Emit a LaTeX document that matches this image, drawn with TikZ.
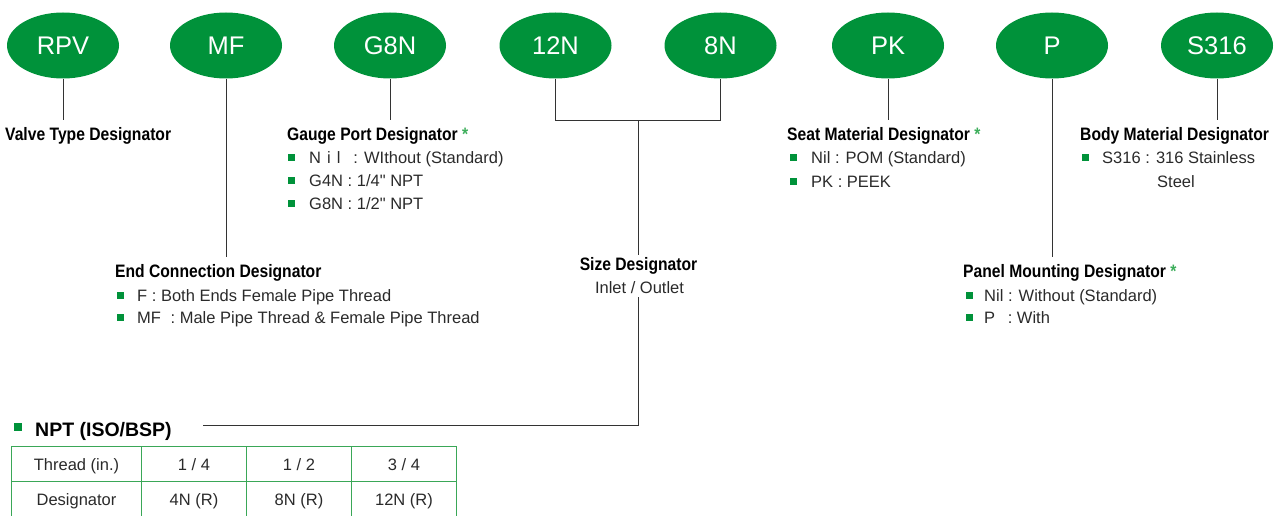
\documentclass[tikz,border=0pt]{standalone}
\usepackage{fontspec}
\setmainfont{Liberation Sans}
\newfontfamily\bodyfont{Liberation Sans}
\newfontfamily\ttlfont[FakeStretch=0.87]{Liberation Sans}
\usetikzlibrary{shapes.geometric}
\definecolor{mgreen}{HTML}{00923A}
\definecolor{lgreen}{HTML}{3DAE5B}
\definecolor{tgreen}{HTML}{3AA757}
\definecolor{txt}{HTML}{2A2A2A}
\tikzset{
 oval/.style={ellipse, fill=mgreen, minimum width=112pt, minimum height=66pt, inner sep=0pt, text=white, font=\bodyfont\fontsize{25.5}{30}\selectfont},
 ttl/.style={anchor=base west, inner sep=0pt, text=black, font=\ttlfont\bfseries\fontsize{18}{22}\selectfont},
 itm/.style={anchor=base west, inner sep=0pt, text=txt, font=\bodyfont\fontsize{16.5}{20}\selectfont},
 bul/.style={fill=mgreen, minimum size=7pt, inner sep=0pt},
 conn/.style={draw=black!80, line width=1pt},
 cell/.style={anchor=base, inner sep=0pt, text=txt, font=\bodyfont\fontsize{16.5}{20}\selectfont},
 tline/.style={draw=tgreen, line width=1pt},
}
\begin{document}
\begin{tikzpicture}[x=1pt,y=-1pt]
\useasboundingbox (0,0) rectangle (1282,516);
% ovals
\node[oval] (rpv) at (63,45.5) {RPV};
\node[oval] (mf) at (226,45.5) {MF};
\node[oval] (g8n) at (390,45.5) {G8N};
\node[oval] (n12) at (555.5,45.5) {12N};
\node[oval] (n8) at (720.5,45.5) {8N};
\node[oval] (pk) at (888,45.5) {PK};
\node[oval] (p) at (1052,45.5) {P};
\node[oval] (s316) at (1217,45.5) {S316};
% valve type
\node[ttl] (vt) at (5,140.5) {Valve Type Designator};
\draw[conn] (rpv.south) -- ([yshift=7pt]rpv.south |- vt.north);
% gauge port
\node[ttl] (gp) at (287,140.5) {Gauge Port Designator \textcolor{lgreen}{*}};
\draw[conn] (g8n.south) -- ([yshift=7pt]g8n.south |- gp.north);
\node[bul] (gpb1) at (291.5,157.5) {};
\node[bul] (gpb2) at (291.5,180.5) {};
\node[bul] (gpb3) at (291.5,203) {};
\node[itm] (gp1) at (309,163.5) {N\hspace{6pt}i\hspace{6pt}l\hspace{13pt}: WIthout (Standard)};
\node[itm] (gp2) at (309,186.5) {G4N : 1/4" NPT};
\node[itm] (gp3) at (309,209) {G8N : 1/2" NPT};
% end connection
\node[ttl] (ec) at (115,277) {End Connection Designator};
\draw[conn] (mf.south) -- ([yshift=7pt]mf.south |- ec.north);
\node[bul] (ecb1) at (120.5,295) {};
\node[bul] (ecb2) at (120.5,317.5) {};
\node[itm] (ec1) at (137,301) {F : Both Ends Female Pipe Thread};
\node[itm] (ec2) at (137,323.5) {MF\hspace{5pt} : Male Pipe Thread \& Female Pipe Thread};
% size
\coordinate (j) at (638,121);
\coordinate (corner) at (638,425);
\coordinate (nptend) at (203,425);
\node[ttl, anchor=base] (sz) at (638.5,270) {Size Designator};
\node[itm, anchor=base] (io) at (639.5,293) {Inlet / Outlet};
\draw[conn] (n12.south) -- (n12.south |- j) -- (n8.south |- j) -- (n8.south);
\draw[conn] (j) -- ([yshift=2pt]j |- sz.north);
\draw[conn] ([yshift=-4pt]j |- io.south) -- (corner) -- (nptend);
% NPT
\node[fill=mgreen, minimum width=8pt, minimum height=7.5pt, inner sep=0pt] (nptb) at (17.5,427) {};
\node[anchor=base west, inner sep=0pt, text=black, font=\bodyfont\bfseries\fontsize{19.5}{23}\selectfont] (npt) at (35,436) {NPT (ISO/BSP)};
% table
\draw[tline] (11.5,517) -- (11.5,446.5) -- (456.5,446.5) -- (456.5,517);
\draw[tline] (11.5,481) -- (456.5,481);
\draw[tline] (141.5,446.5) -- (141.5,517);
\draw[tline] (246.5,446.5) -- (246.5,517);
\draw[tline] (351.5,446.5) -- (351.5,517);
\node[cell] (c11) at (76.5,470.5) {Thread (in.)};
\node[cell] (c12) at (194,470.5) {1 / 4};
\node[cell] (c13) at (299,470.5) {1 / 2};
\node[cell] (c14) at (404,470.5) {3 / 4};
\node[cell] (c21) at (76.5,505.5) {Designator};
\node[cell] (c22) at (194,505.5) {4N (R)};
\node[cell] (c23) at (299,505.5) {8N (R)};
\node[cell] (c24) at (404,505.5) {12N (R)};
% seat material
\node[ttl] (sm) at (787,140.5) {Seat Material Designator \textcolor{lgreen}{*}};
\draw[conn] (pk.south) -- ([yshift=7pt]pk.south |- sm.north);
\node[bul] (smb1) at (793.5,157.5) {};
\node[bul] (smb2) at (793.5,181) {};
\node[itm] (sm1) at (811,163.5) {Nil : POM (Standard)};
\node[itm] (sm2) at (811,187.5) {PK : PEEK};
% panel mounting
\node[ttl] (pm) at (963,277) {Panel Mounting Designator \textcolor{lgreen}{*}};
\draw[conn] (p.south) -- ([yshift=7pt]p.south |- pm.north);
\node[bul] (pmb1) at (969.5,295) {};
\node[bul] (pmb2) at (969.5,317.5) {};
\node[itm] (pm1) at (984,301) {Nil : Without (Standard)};
\node[itm] (pm2) at (984,323.5) {P\hspace{8pt} : With};
% body material
\node[ttl] (bm) at (1080,140.5) {Body Material Designator};
\draw[conn] (s316.south) -- ([yshift=7pt]s316.south |- bm.north);
\node[bul] (bmb1) at (1085.5,157.5) {};
\node[itm] (bm1) at (1102,163.5) {S316 : 316 Stainless};
\node[itm] (bm2) at (1157,187.5) {Steel};
\end{tikzpicture}
\end{document}
